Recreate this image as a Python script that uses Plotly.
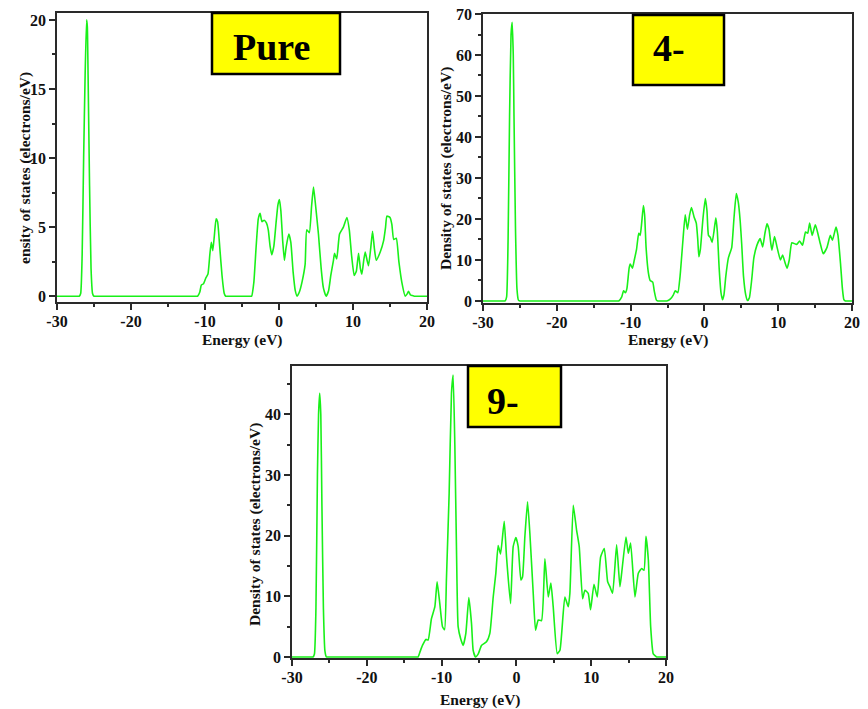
import plotly.graph_objects as go

# ---------------- data: total density of states vs energy ----------------
energy_pure = [
    -30, -27.2, -27.0, -26.8, -26.6, -26.4, -26.2, -26.0, -25.9, -25.8, -25.6, -25.4, -25.2, -25.0, -24.8,
    -11.2, -11.0, -10.7, -10.5, -10.2, -9.9, -9.6, -9.35, -9.15, -8.95, -8.75, -8.5, -8.3, -8.0, -7.7, -7.4, -7.2, -7.0,
    -3.9, -3.7, -3.4, -3.1, -2.8, -2.56, -2.3, -2.0, -1.7, -1.45, -1.2, -0.98, -0.7, -0.4, -0.15, 0.05,
    0.25, 0.5, 0.73, 0.95, 1.32, 1.6, 1.9, 2.2, 2.45, 2.75, 3.1, 3.53, 3.75, 4.1, 4.4,
    4.66, 4.9, 5.33, 5.7, 6.0, 6.37, 6.7, 7.0, 7.36, 7.5, 7.8, 8.18, 8.7, 9.17, 9.5,
    9.8, 10.16, 10.45, 10.75, 11.0, 11.2, 11.45, 11.65, 11.9, 12.1, 12.4, 12.64, 12.9, 13.14, 13.68,
    14.13, 14.4, 14.58, 15.0, 15.25, 15.5, 15.85, 16.2, 16.6, 17.06, 17.3, 17.5, 17.75, 18.0, 18.3, 20.0,
]
dos_pure = [
    0, 0, 0, 0.2, 3, 10, 16, 20, 19.5, 16, 8, 2, 0.2, 0, 0,
    0, 0, 0.3, 0.8, 0.9, 1.3, 1.6, 3.0, 3.9, 3.3, 4.3, 5.6, 5.4, 3.5, 1.5, 0.2, 0, 0,
    0, 0, 1.0, 3.5, 5.6, 6.0, 5.4, 5.5, 5.3, 4.8, 3.6, 3.0, 3.6, 5.3, 6.6, 7.0,
    6.2, 4.0, 2.6, 3.5, 4.5, 3.9, 1.8, 0.4, 0.0, 0.3, 1.0, 2.3, 4.8, 4.6, 6.5,
    7.9, 6.8, 4.5, 2.0, 0.6, 0.0, 0.4, 1.5, 2.6, 3.1, 2.7, 4.5, 5.0, 5.7, 4.8,
    3.0, 1.5, 1.8, 3.1, 2.0, 1.6, 2.6, 3.2, 2.6, 2.2, 3.5, 4.7, 3.4, 2.6, 3.2,
    4.0, 5.0, 5.8, 5.7, 5.2, 4.1, 4.2, 2.5, 1.0, 0.0, 0.15, 0.35, 0.1, 0.05, 0.0, 0.0,
]

energy_4 = [
    -30, -27.2, -27, -26.8, -26.6, -26.4, -26.2, -26.05, -25.9, -25.8, -25.6, -25.4, -25.2, -25, -24.8,
    -11.8, -11.6, -11.2, -10.95, -10.7, -10.5, -10.2, -10.05, -9.75, -9.5, -9.2, -8.9,
    -8.7, -8.5, -8.27, -8.1, -7.9, -7.6, -7.35, -7.0, -6.8, -6.5, -6.3, -6.1,
    -5.3, -5.1, -4.6, -4.2, -3.95, -3.6, -3.3, -2.9, -2.6, -2.3, -2.0, -1.75, -1.4, -1.1, -0.9, -0.75,
    -0.55, -0.2, 0.12, 0.35, 0.55, 0.8, 1.05, 1.3, 1.55, 1.75, 2.0, 2.25, 2.45, 2.65, 2.9,
    3.25, 3.7, 4.0, 4.32, 4.6, 4.85, 5.05, 5.3, 5.6, 5.85, 6.1, 6.4, 6.7, 7.1, 7.55,
    7.9, 8.2, 8.48, 8.75, 9.0, 9.15, 9.5, 9.8, 10.3, 10.6, 10.9, 11.2, 11.5, 11.85, 12.5,
    12.9, 13.3, 13.7, 14.0, 14.26, 14.6, 15.03, 15.3, 15.7, 16.1, 16.6, 17.06, 17.35, 17.83, 18.1,
    18.45, 18.7, 18.9, 19.1, 19.3, 20,
]
dos_4 = [
    0, 0, 0, 1, 15, 45, 65, 68, 60, 45, 18, 3, 0.2, 0, 0,
    0, 0, 1, 2.5, 2.0, 3.0, 8, 9, 8, 10, 12.5, 16.5,
    16, 19, 23.3, 21, 13, 7, 5, 4.6, 2.5, 0.2, 0, 0,
    0, 0, 0.5, 1.5, 2.5, 2.0, 6, 15, 21, 17.5, 21, 22.8, 20.5, 19, 15, 10.8,
    12.5, 20, 25, 22, 16, 15.5, 14.3, 17, 20.3, 17, 8, 2, 0.3, 1.5, 6,
    10.5, 13, 20, 26.2, 24, 19.5, 14, 6, 1.5, 0.1, 0.8, 5, 10.5, 13.5, 15.2,
    13.2, 16.5, 18.8, 17.5, 14, 12.4, 15.7, 13.5, 10, 11.2, 9.5, 8.0, 10, 14.2, 13.8,
    14.6, 13.6, 16.8, 16.5, 19, 16, 18.6, 17, 14, 11.5, 13, 16, 14.8, 18, 16,
    9, 3, 0.3, 0, 0, 0,
]

energy_9 = [
    -30, -27.4, -27.2, -27.0, -26.8, -26.6, -26.45, -26.3, -26.15, -26.0, -25.8, -25.6, -25.4, -25.2,
    -13.35, -13.15, -12.9, -12.56, -12.1, -11.8, -11.36, -10.9, -10.6, -10.24, -9.88, -9.6, -9.35, -8.99, -8.68, -8.46,
    -8.23, -8.0, -7.79, -7.45, -7.12, -6.76, -6.36, -6.0, -5.78, -5.47, -5.1, -4.67, -4.0, -3.55, -3.1,
    -2.75, -2.44, -2.12, -1.63, -1.32, -0.78, -0.43, -0.07, 0.24, 0.6, 0.82, 1.13, 1.49, 1.8, 2.25,
    2.56, 2.92, 3.36, 3.81, 4.26, 4.61, 4.92, 5.46, 5.82, 6.48, 6.93, 7.15, 7.6, 8.05, 8.4,
    8.85, 9.16, 9.6, 9.92, 10.37, 10.81, 11.26, 11.75, 12.2, 12.5, 12.86, 13.4, 13.84, 14.07, 14.65,
    14.96, 15.27, 15.85, 16.3, 16.74, 17.06, 17.32, 17.64, 17.95, 18.3, 18.75, 18.95, 20,
]
dos_9 = [
    0, 0, 0, 0.5, 8, 30, 40, 43.5, 40, 25, 8, 1, 0, 0,
    0, 0, 0.8, 1.9, 2.9, 2.8, 6.3, 8.3, 12.4, 8.8, 5.0, 4.5, 13, 27, 43.5, 46.5,
    35, 17, 5, 3, 1.9, 3.9, 9.8, 5.5, 1.1, 0, 0.5, 1.9, 2.5, 3.9, 9.9,
    13.8, 18.4, 17, 22.4, 16.5, 8.8, 18.2, 19.7, 18.2, 12.7, 13.2, 19.8, 25.6, 20.4, 10.5,
    4.4, 6.1, 6.0, 16.2, 9.9, 12.2, 8.3, 0.55, 1.1, 9.9, 8.3, 10.5, 25.0, 20.9, 18.2,
    9.6, 11, 10.5, 7.8, 12, 9.9, 16.5, 17.9, 12.4, 11.6, 10.5, 18.5, 11.6, 13.8, 19.8,
    17.1, 18.8, 9.9, 13.8, 14.6, 14.3, 19.9, 16, 5, 0.5, 0, 0, 0,
]

panel_labels = ["Pure", "4-", "9-"]
energy_ticks = [-30, -20, -10, 0, 10, 20]
energy_ticktext = ["-30", "-20", "-10", "0", "10", "20"]
energy_minor = [-25, -15, -5, 5, 15]
x_title = "Energy (eV)"
y_title = "Density of states (electrons/eV)"
y_title_clipped = "ensity of states (electrons/eV)"

# ---------------- styling ----------------
W, H = 868, 709
GREEN = "#19f019"
AXIS = "#2a2a2a"
SERIF = "Liberation Serif, Times New Roman, serif"


def px(x):
    return x / W


def py(y):
    return 1 - y / H


tick_font = dict(family=SERIF, size=16, color="#111", weight="bold")
title_font = dict(family=SERIF, size=15.5, color="#111", weight="bold")

fig = go.Figure()

panels = [
    # (energies, dos, xaxis, yaxis, plot box in pixels, y range, y major, y minor)
    (energy_pure, dos_pure, "x", "y", (57, 13, 427, 302), [-0.42, 20.5], 5, 2.5),
    (energy_4, dos_4, "x2", "y2", (483, 14, 852, 303), [-0.5, 70], 10, 5),
    (energy_9, dos_9, "x3", "y3", (292, 366, 666, 658), [-0.17, 48], 10, 5),
]

layout_axes = {}
for i, (e, d, xa, ya, box, yr, ymaj, ymin) in enumerate(panels):
    fig.add_trace(go.Scatter(x=e, y=d, xaxis=xa, yaxis=ya, mode="lines",
                             line=dict(color=GREEN, width=1.6, shape="spline", smoothing=0.45),
                             hoverinfo="skip"))
    x0, y0, x1, y1 = box
    sfx = "" if i == 0 else str(i + 1)
    layout_axes["xaxis" + sfx] = dict(
        domain=[px(x0), px(x1)], range=[-30, 20], anchor=ya, automargin=False,
        tickmode="array", tickvals=energy_ticks, ticktext=energy_ticktext,
        ticks="outside", ticklen=6, tickwidth=1.5, tickcolor=AXIS,
        ticklabelstandoff=-2,
        minor=dict(tickvals=energy_minor, ticks="outside", ticklen=3.5,
                   tickwidth=1.5, tickcolor=AXIS),
        showline=True, linecolor=AXIS, linewidth=1.6, mirror=True,
        showgrid=False, zeroline=False, tickfont=tick_font,
    )
    layout_axes["yaxis" + sfx] = dict(
        domain=[py(y1), py(y0)], range=yr, anchor=xa, automargin=False,
        tickmode="linear", tick0=0, dtick=ymaj,
        ticks="outside", ticklen=6, tickwidth=1.5, tickcolor=AXIS,
        minor=dict(tick0=0, dtick=ymin, ticks="outside", ticklen=3.5,
                   tickwidth=1.5, tickcolor=AXIS),
        showline=True, linecolor=AXIS, linewidth=1.6, mirror=True,
        showgrid=False, zeroline=False, tickfont=tick_font,
    )

fig.update_layout(**layout_axes)

annotations = []
shapes = []

# axis titles
for (cx, cy) in [(242, 340), (668, 340), (480, 700)]:
    annotations.append(dict(x=px(cx), y=py(cy), xref="paper", yref="paper",
                            text=x_title, showarrow=False, font=title_font,
                            xanchor="center", yanchor="middle"))
for txt, (cx, cy) in [(y_title_clipped, (25, 168)), (y_title, (446, 169)),
                      (y_title, (255, 524))]:
    annotations.append(dict(x=px(cx), y=py(cy), xref="paper", yref="paper",
                            text=txt, showarrow=False, font=title_font, textangle=-90,
                            xanchor="center", yanchor="middle"))

# yellow label boxes
boxes = [(212, 13, 340, 74), (633, 15, 724, 85), (468, 366, 561, 427)]
label_pos = [(271, 46.5), (669, 48), (503.5, 400.5)]
for (bx0, by0, bx1, by1), (lx, ly), lab in zip(boxes, label_pos, panel_labels):
    shapes.append(dict(type="rect", xref="paper", yref="paper",
                       x0=px(bx0), x1=px(bx1), y0=py(by1), y1=py(by0),
                       fillcolor="#ffff00", line=dict(color="#000", width=2.5),
                       layer="above"))
    annotations.append(dict(x=px(lx), y=py(ly), xref="paper", yref="paper",
                            text=lab, showarrow=False,
                            font=dict(family=SERIF, size=38, color="#000", weight="bold"),
                            xanchor="center", yanchor="middle"))

fig.update_layout(
    template="none",
    width=W, height=H, margin=dict(l=0, r=0, t=0, b=0, autoexpand=False),
    paper_bgcolor="white", plot_bgcolor="white", showlegend=False,
    annotations=annotations, shapes=shapes,
)

fig.write_html("out.html")
